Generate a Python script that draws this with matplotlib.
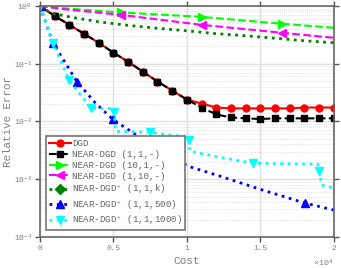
import matplotlib
matplotlib.use("Agg")
import matplotlib.pyplot as plt
from matplotlib.ticker import FixedLocator, FuncFormatter, NullFormatter, LogLocator

plt.rcParams['font.family'] = ['Liberation Mono', 'DejaVu Sans Mono']
plt.rcParams['mathtext.fontset'] = 'custom'
plt.rcParams['mathtext.rm'] = 'Liberation Mono'
plt.rcParams['mathtext.it'] = 'Liberation Mono'
plt.rcParams['mathtext.default'] = 'regular'

# data (cost, relative error)
dgd_cost = [0, 1000, 2000, 3000, 4000, 5000, 6000, 7000, 8000, 9000, 10000,
            11000, 12000, 13000, 14000, 15000, 16000, 17000, 18000, 19000, 20000]
dgd_err = [1.0, 0.672, 0.470, 0.329, 0.230, 0.155, 0.108, 0.0728, 0.049, 0.0342,
           0.0239, 0.0204, 0.0174, 0.0168, 0.0168, 0.0168, 0.0168, 0.0168,
           0.0174, 0.0174, 0.0174]
near_err = [1.0, 0.672, 0.470, 0.329, 0.230, 0.155, 0.108, 0.0728, 0.049, 0.0342,
            0.0239, 0.0174, 0.0132, 0.0117, 0.0113, 0.0110, 0.0113, 0.0113,
            0.0113, 0.0113, 0.0113]

n10_cost = [0, 1400, 5500, 11000, 16500, 20000]
n10_err = [1.0, 0.92, 0.77, 0.646, 0.49, 0.418]
n10_marks = [0, 2, 3, 4]

n110_cost = [0, 1400, 5500, 11000, 16500, 20000]
n110_err = [1.0, 0.89, 0.70, 0.47, 0.342, 0.28]
n110_marks = [0, 2, 3, 4]

k_cost = [0, 500, 1000, 2000, 4000, 6000, 8000, 10000, 12000, 14000, 16000,
          18000, 20000]
k_err = [1.0, 0.82, 0.73, 0.646, 0.53, 0.46, 0.41, 0.37, 0.33, 0.304, 0.275,
         0.249, 0.23]
k_marks = [0]

b500_cost = [0, 884, 2517, 3741, 4966, 6803, 10068, 12245, 14966, 18027, 20000]
b500_err = [1.0, 0.230, 0.049, 0.0213, 0.0108, 0.0053, 0.00168, 0.00113,
            0.00067, 0.000386, 0.000292]
b500_marks = [0, 1, 2, 4, 9]

b1000_cost = [0, 884, 1973, 3469, 4966, 5034, 5170, 7483, 10068, 10136, 10204,
              12245, 14490, 18912, 18980, 19184, 20000]
b1000_err = [1.0, 0.230, 0.053, 0.0168, 0.0168, 0.0143, 0.00673, 0.00646,
             0.0053, 0.0047, 0.00304, 0.00239, 0.00189, 0.00181, 0.00137,
             0.000788, 0.00070]
b1000_marks = [0, 1, 2, 3, 5, 7, 9, 12, 14]

xticks = [0, 5000, 10000, 15000, 20000]
yticks = [1e-4, 1e-3, 1e-2, 1e-1, 1e0]
ytick_labels = ['$10^{-4}$', '$10^{-3}$', '$10^{-2}$', '$10^{-1}$', '$10^{0}$']

fig = plt.figure(figsize=(3.41, 2.68), dpi=100)
ax = fig.add_axes([0.117, 0.116, 0.862, 0.862])

lw = 1.5
ms = 5
ax.plot(dgd_cost, dgd_err, '-', color='#ff0000', lw=lw, marker='o', ms=ms,
        label='DGD')
ax.plot(dgd_cost, near_err, '--', color='black', lw=lw, marker='s', ms=ms,
        label='NEAR-DGD (1,1,-)')
ax.plot(n10_cost, n10_err, '--', color='#00ff00', lw=lw, marker='>', ms=ms + 1,
        markevery=n10_marks, label='NEAR-DGD (10,1,-)')
ax.plot(n110_cost, n110_err, '--', color='#ff00ff', lw=lw, marker='<', ms=ms + 1,
        markevery=n110_marks, label='NEAR-DGD (1,10,-)')
ax.plot(k_cost, k_err, ':', color='#008000', lw=lw + 0.5, marker='D', ms=ms,
        markevery=k_marks, label='NEAR-DGD$^+$ (1,1,k)')
ax.plot(b500_cost, b500_err, ':', color='#0000ff', lw=lw + 0.5, marker='^',
        ms=ms + 1, markevery=b500_marks, label='NEAR-DGD$^+$ (1,1,500)')
ax.plot(b1000_cost, b1000_err, ':', color='#00ffff', lw=lw + 0.5, marker='v',
        ms=ms + 1, markevery=b1000_marks, label='NEAR-DGD$^+$ (1,1,1000)')

ax.set_yscale('log')
ax.set_xlim(0, 20000)
ax.set_ylim(1e-4, 1)

ax.xaxis.set_major_locator(FixedLocator(xticks))
ax.xaxis.set_major_formatter(FuncFormatter(lambda v, p: '%g' % (v / 1e4)))
ax.yaxis.set_major_locator(FixedLocator(yticks))
ax.set_yticklabels(ytick_labels)
ax.yaxis.set_minor_locator(LogLocator(base=10, subs=range(2, 10), numticks=20))
ax.yaxis.set_minor_formatter(NullFormatter())

tick_col = '#808080'
ax.tick_params(which='major', direction='out', length=3.5, width=1,
               color='#555555', labelcolor=tick_col, labelsize=5.8, pad=2,
               top=True, right=True)
ax.tick_params(which='minor', length=0)
for s in ax.spines.values():
    s.set_color('#666666')
    s.set_linewidth(1.2)

ax.grid(True, which='major', color='#e0e0e0', lw=1, ls='-')
ax.grid(True, which='minor', axis='y', color='#c8c8c8', lw=0.5, ls=(0, (1, 2)))
ax.set_axisbelow(True)

ax.set_xlabel('Cost', color=tick_col, fontsize=8, labelpad=3)
ax.set_ylabel('Relative Error', color=tick_col, fontsize=7.8)
ax.yaxis.set_label_coords(-0.093, 0.5)
ax.text(1.0, -0.09, r'$\times10^{4}$', transform=ax.transAxes, ha='right',
        va='top', fontsize=6, color=tick_col)

leg = ax.legend(loc='lower left', bbox_to_anchor=(0.02, 0.03), fontsize=6.6,
                frameon=True, fancybox=False, framealpha=1, handlelength=2.4,
                handletextpad=0.2, borderpad=0.3, labelspacing=0.2,
                borderaxespad=0)
leg.get_frame().set_edgecolor('#777777')
leg.get_frame().set_linewidth(1.2)
for t in leg.get_texts():
    t.set_color('#666666')

fig.savefig('out.png', dpi=100)
